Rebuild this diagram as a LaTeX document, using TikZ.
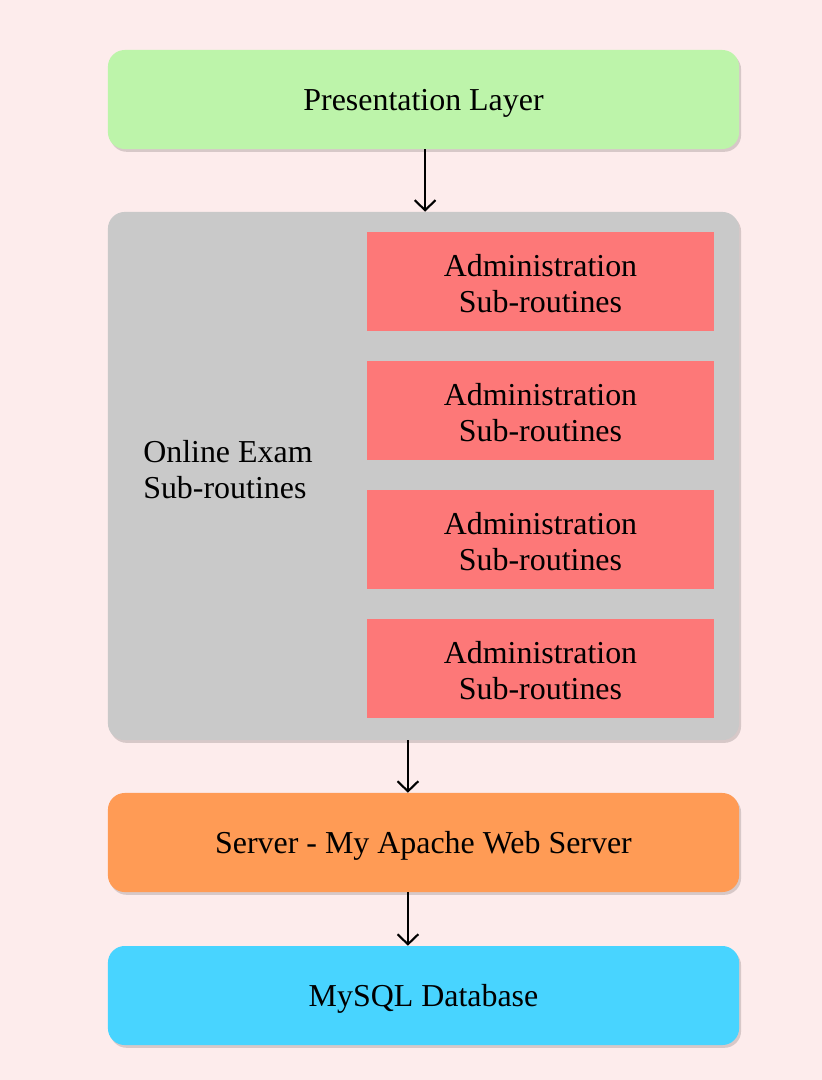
\documentclass[tikz,border=0pt]{standalone}
\usepackage{fontspec}
\setmainfont{Liberation Serif}
\usetikzlibrary{arrows.meta}
\usetikzlibrary{shadows}

\definecolor{bgpink}{RGB}{253,236,236}
\definecolor{layergreen}{RGB}{189,244,170}
\definecolor{layergray}{RGB}{201,201,201}
\definecolor{subred}{RGB}{253,120,120}
\definecolor{serverorange}{RGB}{255,155,85}
\definecolor{dbblue}{RGB}{72,212,255}

\begin{document}
\begin{tikzpicture}[x=0.025cm, y=-0.025cm,
	layer/.style={rounded corners=0.42cm, minimum width=15.775cm, minimum height=2.475cm, inner sep=0pt, text depth=0pt,
		drop shadow={shadow xshift=0.05cm, shadow yshift=-0.07cm, opacity=0.15, fill=black}},
	subbox/.style={fill=subred, minimum width=8.675cm, minimum height=2.475cm, inner sep=0pt,
		label={[align=center, inner sep=0pt, yshift=-0.05cm]center:Administration\\Sub-routines}},
	flow/.style={line width=1.5pt, -{Straight Barb[length=0.25cm, width=0.52cm, line width=1.5pt]}},
	font=\fontsize{22.7}{25.6}\selectfont]
	\fill[bgpink] (0,0) rectangle (822,1080);
	\useasboundingbox (0,0) rectangle (822,1080);

	\node[layer, fill=layergreen] (pres) at (423.5,99.5) {Presentation Layer};

	\node[layer, fill=layergray, minimum height=13.2cm] (core) at (423.5,476) {};
	\node[anchor=west, align=left, inner sep=0pt] (online) at (143,470) {Online Exam\\Sub-routines};
	\foreach \i/\y in {1/281.5, 2/410.5, 3/539.5, 4/668.5}
		\node[subbox] (admin\i) at (540.5,\y) {};

	\node[layer, fill=serverorange] (server) at (423.5,842.5) {Server - My Apache Web Server};
	\node[layer, fill=dbblue] (db) at (423.5,995.5) {MySQL Database};

	\draw[flow] ([xshift=0.04cm]pres.south) -- ([xshift=0.04cm]core.north);
	\draw[flow] ([xshift=-0.39cm]core.south) -- ([xshift=-0.39cm]server.north);
	\draw[flow] ([xshift=-0.39cm]server.south) -- ([xshift=-0.39cm]db.north);
\end{tikzpicture}
\end{document}
